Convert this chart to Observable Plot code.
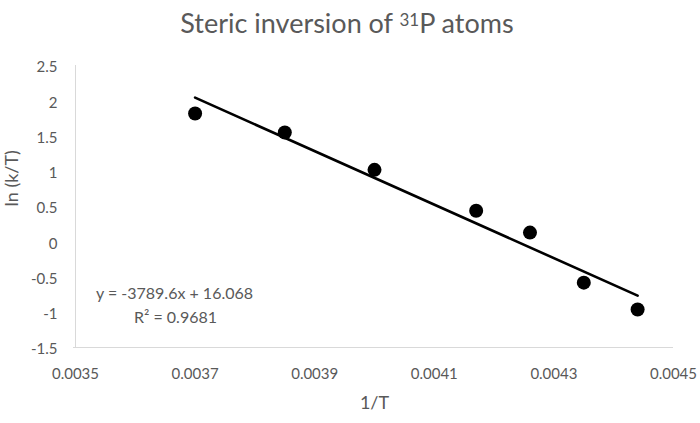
<!DOCTYPE html>
<html><head><meta charset="utf-8">
<script src="https://cdn.jsdelivr.net/npm/d3@7"></script>
<script src="https://cdn.jsdelivr.net/npm/@observablehq/plot@0.6"></script>
<style>
html,body{margin:0;padding:0;background:#fff;}
body{width:700px;height:423px;overflow:hidden;font-family:Lato,"Open Sans",sans-serif;}
#title{box-sizing:border-box;height:45px;padding-top:9px;text-align:center;font-size:27px;line-height:28px;color:#595959;padding-right:6px;white-space:nowrap;}
#title sup{font-size:17px;vertical-align:top;position:relative;top:-3px;}
</style></head><body>
<div id="title">Steric inversion of <sup>31</sup>P atoms</div>
<div id="chart"></div>
<script>
const invT = [0.0037, 0.00385, 0.004, 0.00417, 0.00426, 0.00435, 0.00444];
const lnKT = [1.82, 1.55, 1.02, 0.44, 0.13, -0.58, -0.96];
const xTicks = [0.0035, 0.0037, 0.0039, 0.0041, 0.0043, 0.0045];
const yTicks = [-1.5, -1, -0.5, 0, 0.5, 1, 1.5, 2, 2.5];
const xTitle = "1/T";
const yTitle = "ln (k/T)";
const equationLabel = "y = -3789.6x + 16.068";
const r2Label = "R² = 0.9681";

const data = invT.map((x, i) => ({x, y: lnKT[i]}));
const textColor = "#595959";

const chart = Plot.plot({
  width: 700,
  height: 378,
  marginLeft: 75,
  marginRight: 27,
  marginTop: 20,
  marginBottom: 76,
  style: {fontFamily: "Lato, 'Open Sans', sans-serif", fontSize: "15px", color: textColor, background: "#fff"},
  x: {domain: [xTicks[0], xTicks[xTicks.length - 1]]},
  y: {domain: [yTicks[0], yTicks[yTicks.length - 1]]},
  marks: [
    Plot.ruleX([xTicks[0]], {stroke: "#d9d9d9", strokeWidth: 1}),
    Plot.ruleY([yTicks[0]], {stroke: "#d9d9d9", strokeWidth: 1, insetLeft: -2}),
    Plot.axisX({ticks: xTicks, tickSize: 0, tickPadding: 21, tickFormat: d => d3.format(".4f")(d), label: null, fill: textColor}),
    Plot.axisY({ticks: yTicks, tickSize: 0, tickPadding: 18, dy: 2, tickFormat: d => String(d), label: null, fill: textColor}),
    Plot.text([xTitle], {text: d => d, frameAnchor: "bottom", dy: 61, fontSize: 18, fill: textColor}),
    Plot.text([yTitle], {text: d => d, frameAnchor: "left", dx: -63, rotate: -90, fontSize: 18, fill: textColor}),
    Plot.linearRegressionY(data, {x: "x", y: "y", stroke: "black", strokeWidth: 2.6, ci: 0}),
    Plot.dot(data, {x: "x", y: "y", r: 7, fill: "black", stroke: "none"}),
    Plot.text([equationLabel], {text: d => d, frameAnchor: "bottom-left", textAnchor: "middle", dx: 99, dy: -49, fontSize: 16, fill: textColor}),
    Plot.text([r2Label], {text: d => d, frameAnchor: "bottom-left", textAnchor: "middle", dx: 100, dy: -25, fontSize: 16, fill: textColor})
  ]
});
document.getElementById("chart").appendChild(chart);
</script>
</body></html>
